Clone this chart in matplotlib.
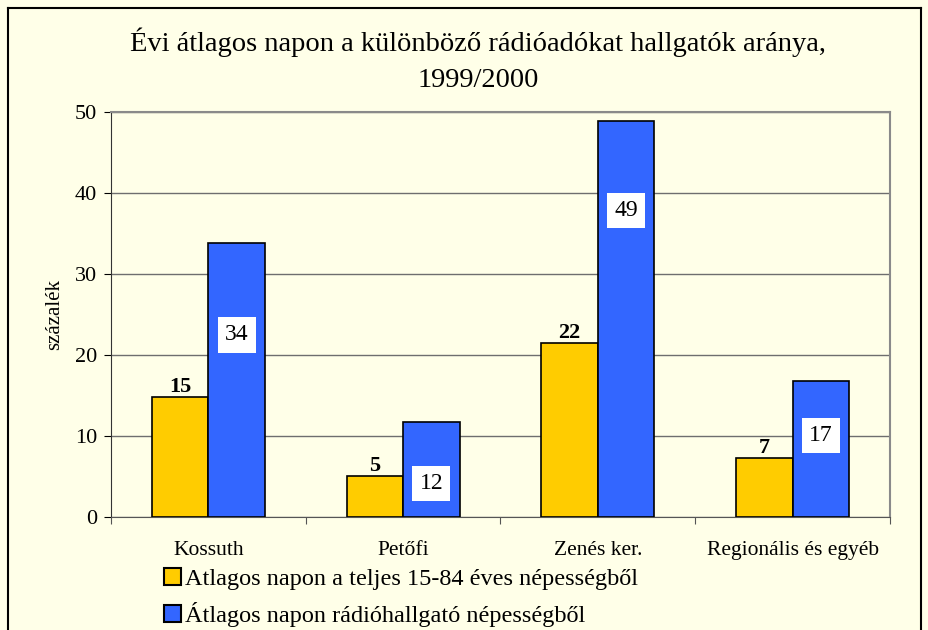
import matplotlib
matplotlib.use("Agg")
import matplotlib.pyplot as plt
from matplotlib.lines import Line2D
import numpy as np

plt.rcParams['font.family'] = ['Liberation Serif', 'DejaVu Serif']

# adatok
categories = ['Kossuth', 'Petőfi', 'Zenés ker.', 'Regionális és egyéb']
teljes = [14.8, 5.1, 21.5, 7.3]
hallgato = [33.9, 11.7, 48.9, 16.8]
teljes_labels = ['15', '5', '22', '7']
hallgato_labels = ['34', '12', '49', '17']
hallgato_label_y = [22.5, 4.2, 37.9, 10.1]
series_names = ['Atlagos napon a teljes 15-84 éves népességből',
                'Átlagos napon rádióhallgató népességből']

bg = '#FFFFE8'
yellow = '#FFCC00'
blue = '#3366FF'

fig = plt.figure(figsize=(9.29, 6.3), dpi=100)
fig.patch.set_facecolor(bg)

# keret (alul le van vágva)
for xs, ys in [([0.009, 0.009], [0, 0.987]), ([0.009, 0.991], [0.987, 0.987]), ([0.991, 0.991], [0, 0.987])]:
    fig.add_artist(Line2D(xs, ys, color='black', lw=1.5, transform=fig.transFigure))

ax = fig.add_axes([0.1195, 0.179, 0.8385, 0.643])
ax.set_facecolor(bg)

x = np.arange(len(categories))
w = 0.29
b1 = ax.bar(x - w / 2, teljes, w, color=yellow, edgecolor='black', lw=1.2, zorder=3)
b2 = ax.bar(x + w / 2, hallgato, w, color=blue, edgecolor='black', lw=1.2, zorder=3)

ax.set_xlim(-0.5, 3.5)
ax.set_ylim(0, 50)
ax.set_yticks(range(0, 51, 10))
ax.yaxis.grid(True, color='#6e6e6e', lw=1)
ax.set_axisbelow(True)

# x tengely: tickek a kategóriák határán, feliratok középen
ax.set_xticks(np.arange(-0.5, 4, 1))
ax.set_xticklabels([])
ax.set_xticks(x, minor=True)
ax.set_xticklabels(categories, minor=True, fontsize=15.5)
ax.tick_params(axis='x', which='minor', length=0, pad=17)
ax.tick_params(axis='x', which='major', length=5, color='#555555')
ax.tick_params(axis='y', labelsize=16, length=5, pad=5)

for s in ['top', 'right']:
    ax.spines[s].set_color('#8a8a8a')
    ax.spines[s].set_linewidth(1.5)
ax.spines['left'].set_color('#333333')
ax.spines['bottom'].set_color('#555555')

ax.set_ylabel('százalék', fontsize=15, labelpad=8)

# értékcímkék
for rect, lab in zip(b1, teljes_labels):
    ax.annotate(lab, (rect.get_x() + rect.get_width() / 2, rect.get_height()),
                xytext=(0, 0), textcoords='offset points', ha='center', va='bottom',
                fontsize=16, fontweight='bold', zorder=4)
for rect, lab, ly in zip(b2, hallgato_labels, hallgato_label_y):
    ax.text(rect.get_x() + rect.get_width() / 2, ly, lab, ha='center', va='center',
            fontsize=17, zorder=4,
            bbox=dict(boxstyle='square,pad=0.3', fc='white', ec='none'))

fig.text(0.515, 0.933, 'Évi átlagos napon a különböző rádióadókat hallgatók aránya,',
         ha='center', va='center', fontsize=20.5)
fig.text(0.515, 0.872, '1999/2000', ha='center', va='center', fontsize=20.5)

handles = [plt.Rectangle((0, 0), 1, 1, fc=yellow, ec='black', lw=1.5),
           plt.Rectangle((0, 0), 1, 1, fc=blue, ec='black', lw=1.5)]
fig.legend(handles, series_names, loc='upper left', bbox_to_anchor=(0.176, 0.099),
           frameon=False, fontsize=17.5, handlelength=0.72, handleheight=0.72,
           handletextpad=0.15, labelspacing=0.5, borderaxespad=0, borderpad=0)

fig.savefig('out.png', dpi=100, facecolor=bg)
